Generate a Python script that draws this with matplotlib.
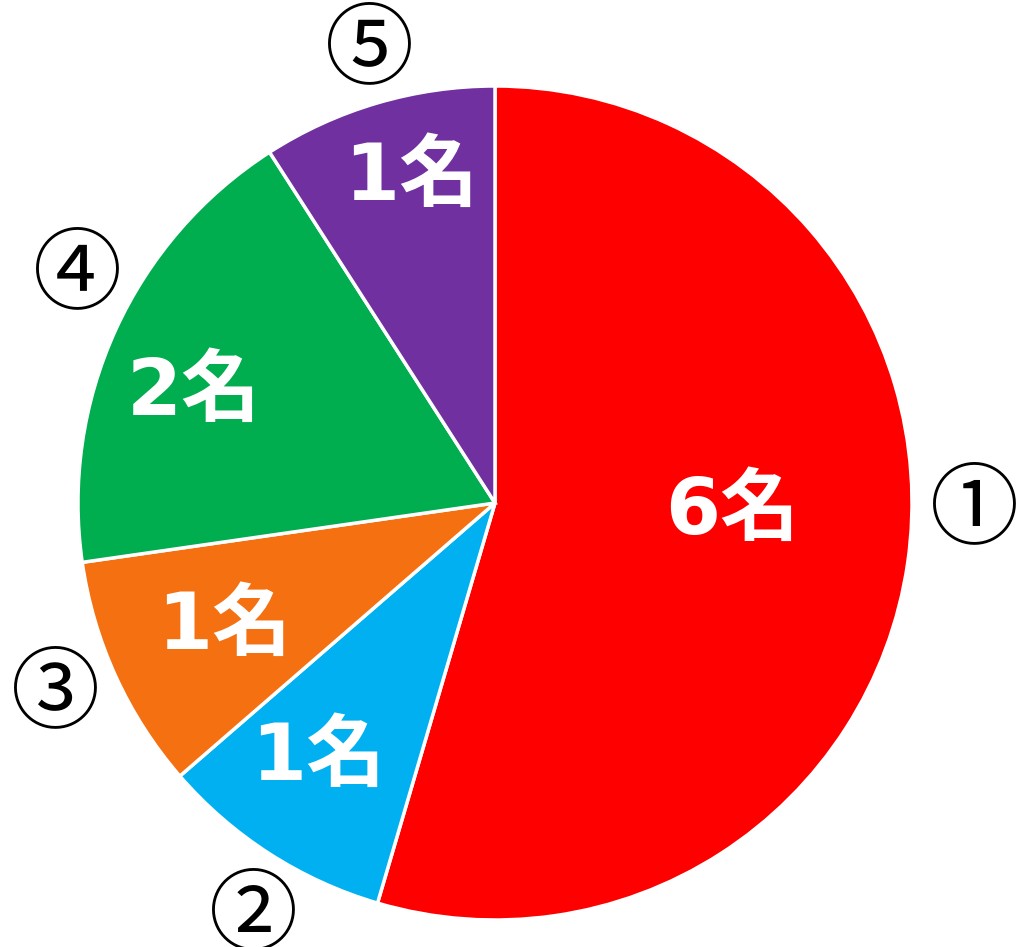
import numpy as np
import matplotlib
matplotlib.use("Agg")
import matplotlib.pyplot as plt

categories = ["①", "②", "③", "④", "⑤"]
values = [6, 1, 1, 2, 1]
inner_labels = ["6名", "1名", "1名", "2名", "1名"]
colors = ["#FF0000", "#00B0F0", "#F47010", "#00AD4F", "#7030A0"]

# per-slice label placement (radius, angle offset in degrees)
inner_r = [0.57, 0.745, 0.715, 0.77, 0.805]
inner_off = [6, -2, 0, 4.5, -2]
outer_r = [1.15, 1.15, 1.15, 1.14, 1.125]
outer_off = [7.2, 2.5, -1, -4, -0.8]

fig = plt.figure(figsize=(10.17, 9.47), dpi=100)
ax = fig.add_axes([0, 0, 1, 1])
R = 417.0
cx, cy = 495.0, 947 - 503.0
wedges, _ = ax.pie(values, colors=colors, startangle=90, counterclock=False,
                   wedgeprops=dict(edgecolor="white", linewidth=2.5))
ax.set_aspect("auto")
ax.set_xlim(-cx / R, (1017 - cx) / R)
ax.set_ylim(-cy / R, (947 - cy) / R)
ax.axis("off")

for i, w in enumerate(wedges):
    mid = (w.theta1 + w.theta2) / 2.0
    a = np.deg2rad(mid + inner_off[i])
    ax.text(inner_r[i] * np.cos(a), inner_r[i] * np.sin(a), inner_labels[i],
            ha="center", va="center", color="white", fontsize=57, fontweight="bold",
            family=["DejaVu Sans", "Noto Sans CJK JP"])
    b = np.deg2rad(mid + outer_off[i])
    ax.text(outer_r[i] * np.cos(b), outer_r[i] * np.sin(b), categories[i],
            ha="center", va="center", color="black", fontsize=64,
            family=["Noto Sans CJK JP", "DejaVu Sans"])

fig.savefig("out.png", dpi=100)
